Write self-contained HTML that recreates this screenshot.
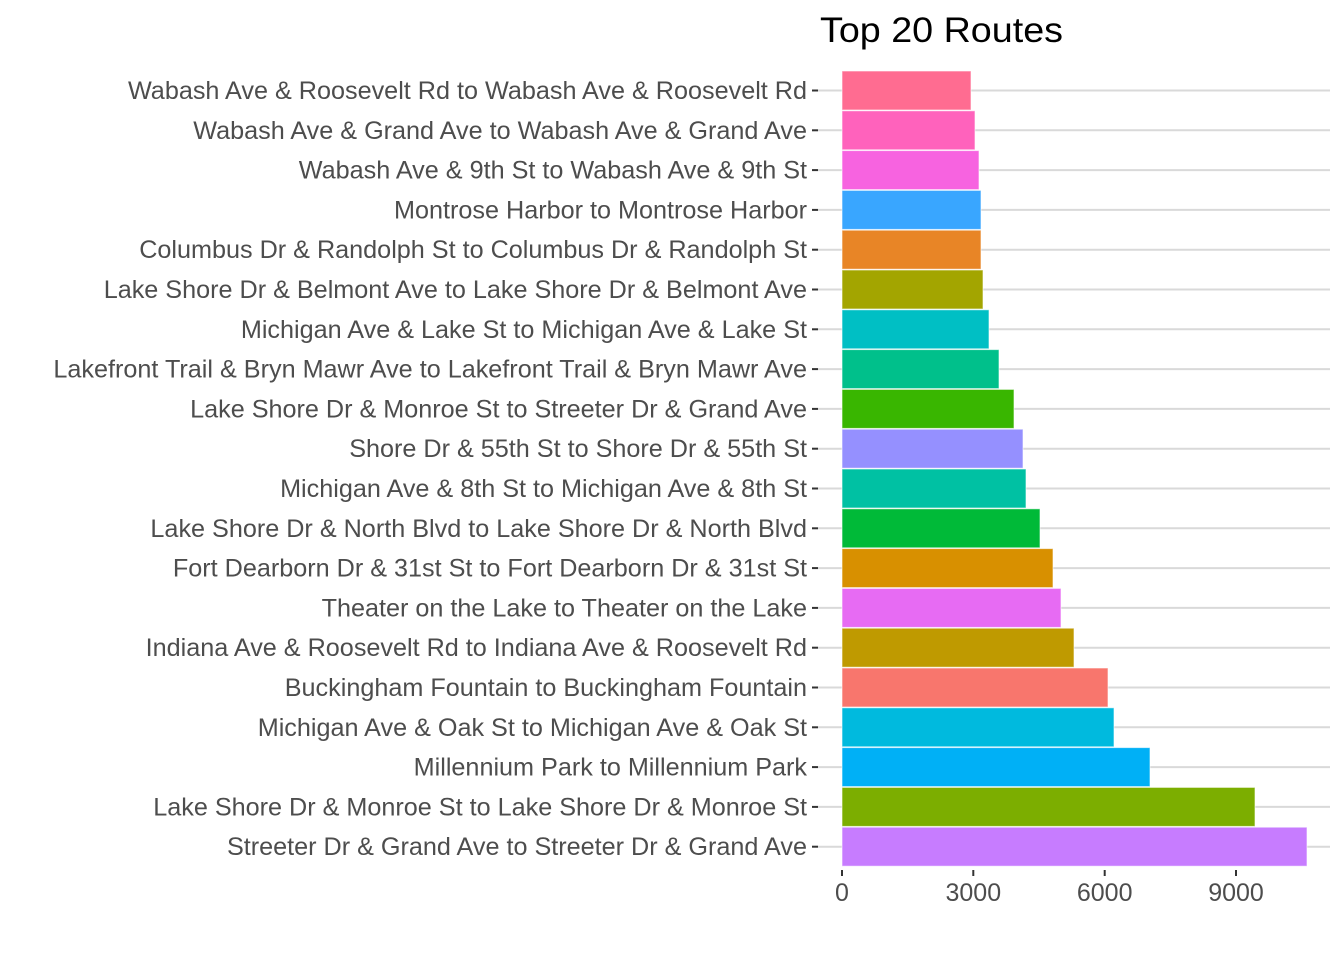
<!DOCTYPE html>
<html><head><meta charset="utf-8"><style>html,body{margin:0;padding:0;background:#fff}</style></head>
<body>
<svg width="1344" height="960" xmlns="http://www.w3.org/2000/svg" font-family="Liberation Sans, Arial, sans-serif">
<rect width="1344" height="960" fill="#fff"/>
<text x="820" y="42" font-size="35" fill="#000" textLength="243" lengthAdjust="spacingAndGlyphs">Top 20 Routes</text>
<g stroke="#d9d9d9" stroke-width="2">
<line x1="818" x2="1330" y1="90.5" y2="90.5"/><line x1="818" x2="1330" y1="130.3" y2="130.3"/><line x1="818" x2="1330" y1="170.1" y2="170.1"/><line x1="818" x2="1330" y1="209.9" y2="209.9"/><line x1="818" x2="1330" y1="249.7" y2="249.7"/><line x1="818" x2="1330" y1="289.5" y2="289.5"/><line x1="818" x2="1330" y1="329.3" y2="329.3"/><line x1="818" x2="1330" y1="369.1" y2="369.1"/><line x1="818" x2="1330" y1="408.9" y2="408.9"/><line x1="818" x2="1330" y1="448.7" y2="448.7"/><line x1="818" x2="1330" y1="488.5" y2="488.5"/><line x1="818" x2="1330" y1="528.3" y2="528.3"/><line x1="818" x2="1330" y1="568.1" y2="568.1"/><line x1="818" x2="1330" y1="607.9" y2="607.9"/><line x1="818" x2="1330" y1="647.7" y2="647.7"/><line x1="818" x2="1330" y1="687.5" y2="687.5"/><line x1="818" x2="1330" y1="727.3" y2="727.3"/><line x1="818" x2="1330" y1="767.1" y2="767.1"/><line x1="818" x2="1330" y1="806.9" y2="806.9"/><line x1="818" x2="1330" y1="846.7" y2="846.7"/>
</g>
<g stroke="#fff" stroke-opacity="0.6" stroke-width="1">
<rect x="842" y="71" width="129" height="39" fill="#FF6C91"/>
<rect x="842" y="110.8" width="133" height="39" fill="#FF62BC"/>
<rect x="842" y="150.6" width="137" height="39" fill="#F763E0"/>
<rect x="842" y="190.4" width="139" height="39" fill="#39A6FF"/>
<rect x="842" y="230.2" width="139" height="39" fill="#E88526"/>
<rect x="842" y="270" width="141" height="39" fill="#A3A500"/>
<rect x="842" y="309.8" width="147" height="39" fill="#00BFC4"/>
<rect x="842" y="349.6" width="157" height="39" fill="#00C08B"/>
<rect x="842" y="389.4" width="172" height="39" fill="#39B600"/>
<rect x="842" y="429.2" width="181" height="39" fill="#9590FF"/>
<rect x="842" y="469" width="184" height="39" fill="#00C1A3"/>
<rect x="842" y="508.8" width="198" height="39" fill="#00BA38"/>
<rect x="842" y="548.6" width="211" height="39" fill="#D89000"/>
<rect x="842" y="588.4" width="219" height="39" fill="#E76BF3"/>
<rect x="842" y="628.2" width="232" height="39" fill="#BF9A00"/>
<rect x="842" y="668" width="266" height="39" fill="#F8766D"/>
<rect x="842" y="707.8" width="272" height="39" fill="#00BADE"/>
<rect x="842" y="747.6" width="308" height="39" fill="#00B0F6"/>
<rect x="842" y="787.4" width="413" height="39" fill="#7CAE00"/>
<rect x="842" y="827.2" width="465" height="39" fill="#C77CFF"/>
</g>
<g stroke="#333" stroke-width="2">
<line x1="812" x2="818" y1="90.5" y2="90.5"/><line x1="812" x2="818" y1="130.3" y2="130.3"/><line x1="812" x2="818" y1="170.1" y2="170.1"/><line x1="812" x2="818" y1="209.9" y2="209.9"/><line x1="812" x2="818" y1="249.7" y2="249.7"/><line x1="812" x2="818" y1="289.5" y2="289.5"/><line x1="812" x2="818" y1="329.3" y2="329.3"/><line x1="812" x2="818" y1="369.1" y2="369.1"/><line x1="812" x2="818" y1="408.9" y2="408.9"/><line x1="812" x2="818" y1="448.7" y2="448.7"/><line x1="812" x2="818" y1="488.5" y2="488.5"/><line x1="812" x2="818" y1="528.3" y2="528.3"/><line x1="812" x2="818" y1="568.1" y2="568.1"/><line x1="812" x2="818" y1="607.9" y2="607.9"/><line x1="812" x2="818" y1="647.7" y2="647.7"/><line x1="812" x2="818" y1="687.5" y2="687.5"/><line x1="812" x2="818" y1="727.3" y2="727.3"/><line x1="812" x2="818" y1="767.1" y2="767.1"/><line x1="812" x2="818" y1="806.9" y2="806.9"/><line x1="812" x2="818" y1="846.7" y2="846.7"/>
<line x1="842" x2="842" y1="870" y2="876"/><line x1="973.3" x2="973.3" y1="870" y2="876"/><line x1="1104.7" x2="1104.7" y1="870" y2="876"/><line x1="1236" x2="1236" y1="870" y2="876"/>
</g>
<g font-size="25.2" fill="#4d4d4d" text-anchor="end">
<text x="807" y="99">Wabash Ave &amp; Roosevelt Rd to Wabash Ave &amp; Roosevelt Rd</text>
<text x="807" y="138.8">Wabash Ave &amp; Grand Ave to Wabash Ave &amp; Grand Ave</text>
<text x="807" y="178.6">Wabash Ave &amp; 9th St to Wabash Ave &amp; 9th St</text>
<text x="807" y="218.4">Montrose Harbor to Montrose Harbor</text>
<text x="807" y="258.2">Columbus Dr &amp; Randolph St to Columbus Dr &amp; Randolph St</text>
<text x="807" y="298">Lake Shore Dr &amp; Belmont Ave to Lake Shore Dr &amp; Belmont Ave</text>
<text x="807" y="337.8">Michigan Ave &amp; Lake St to Michigan Ave &amp; Lake St</text>
<text x="807" y="377.6">Lakefront Trail &amp; Bryn Mawr Ave to Lakefront Trail &amp; Bryn Mawr Ave</text>
<text x="807" y="417.4">Lake Shore Dr &amp; Monroe St to Streeter Dr &amp; Grand Ave</text>
<text x="807" y="457.2">Shore Dr &amp; 55th St to Shore Dr &amp; 55th St</text>
<text x="807" y="497">Michigan Ave &amp; 8th St to Michigan Ave &amp; 8th St</text>
<text x="807" y="536.8">Lake Shore Dr &amp; North Blvd to Lake Shore Dr &amp; North Blvd</text>
<text x="807" y="576.6">Fort Dearborn Dr &amp; 31st St to Fort Dearborn Dr &amp; 31st St</text>
<text x="807" y="616.4">Theater on the Lake to Theater on the Lake</text>
<text x="807" y="656.2">Indiana Ave &amp; Roosevelt Rd to Indiana Ave &amp; Roosevelt Rd</text>
<text x="807" y="696">Buckingham Fountain to Buckingham Fountain</text>
<text x="807" y="735.8">Michigan Ave &amp; Oak St to Michigan Ave &amp; Oak St</text>
<text x="807" y="775.6">Millennium Park to Millennium Park</text>
<text x="807" y="815.4">Lake Shore Dr &amp; Monroe St to Lake Shore Dr &amp; Monroe St</text>
<text x="807" y="855.2">Streeter Dr &amp; Grand Ave to Streeter Dr &amp; Grand Ave</text>
</g>
<g font-size="25" fill="#4d4d4d" text-anchor="middle">
<text x="842" y="901">0</text><text x="973.3" y="901">3000</text><text x="1104.7" y="901">6000</text><text x="1236" y="901">9000</text>
</g>
</svg>
</body></html>
